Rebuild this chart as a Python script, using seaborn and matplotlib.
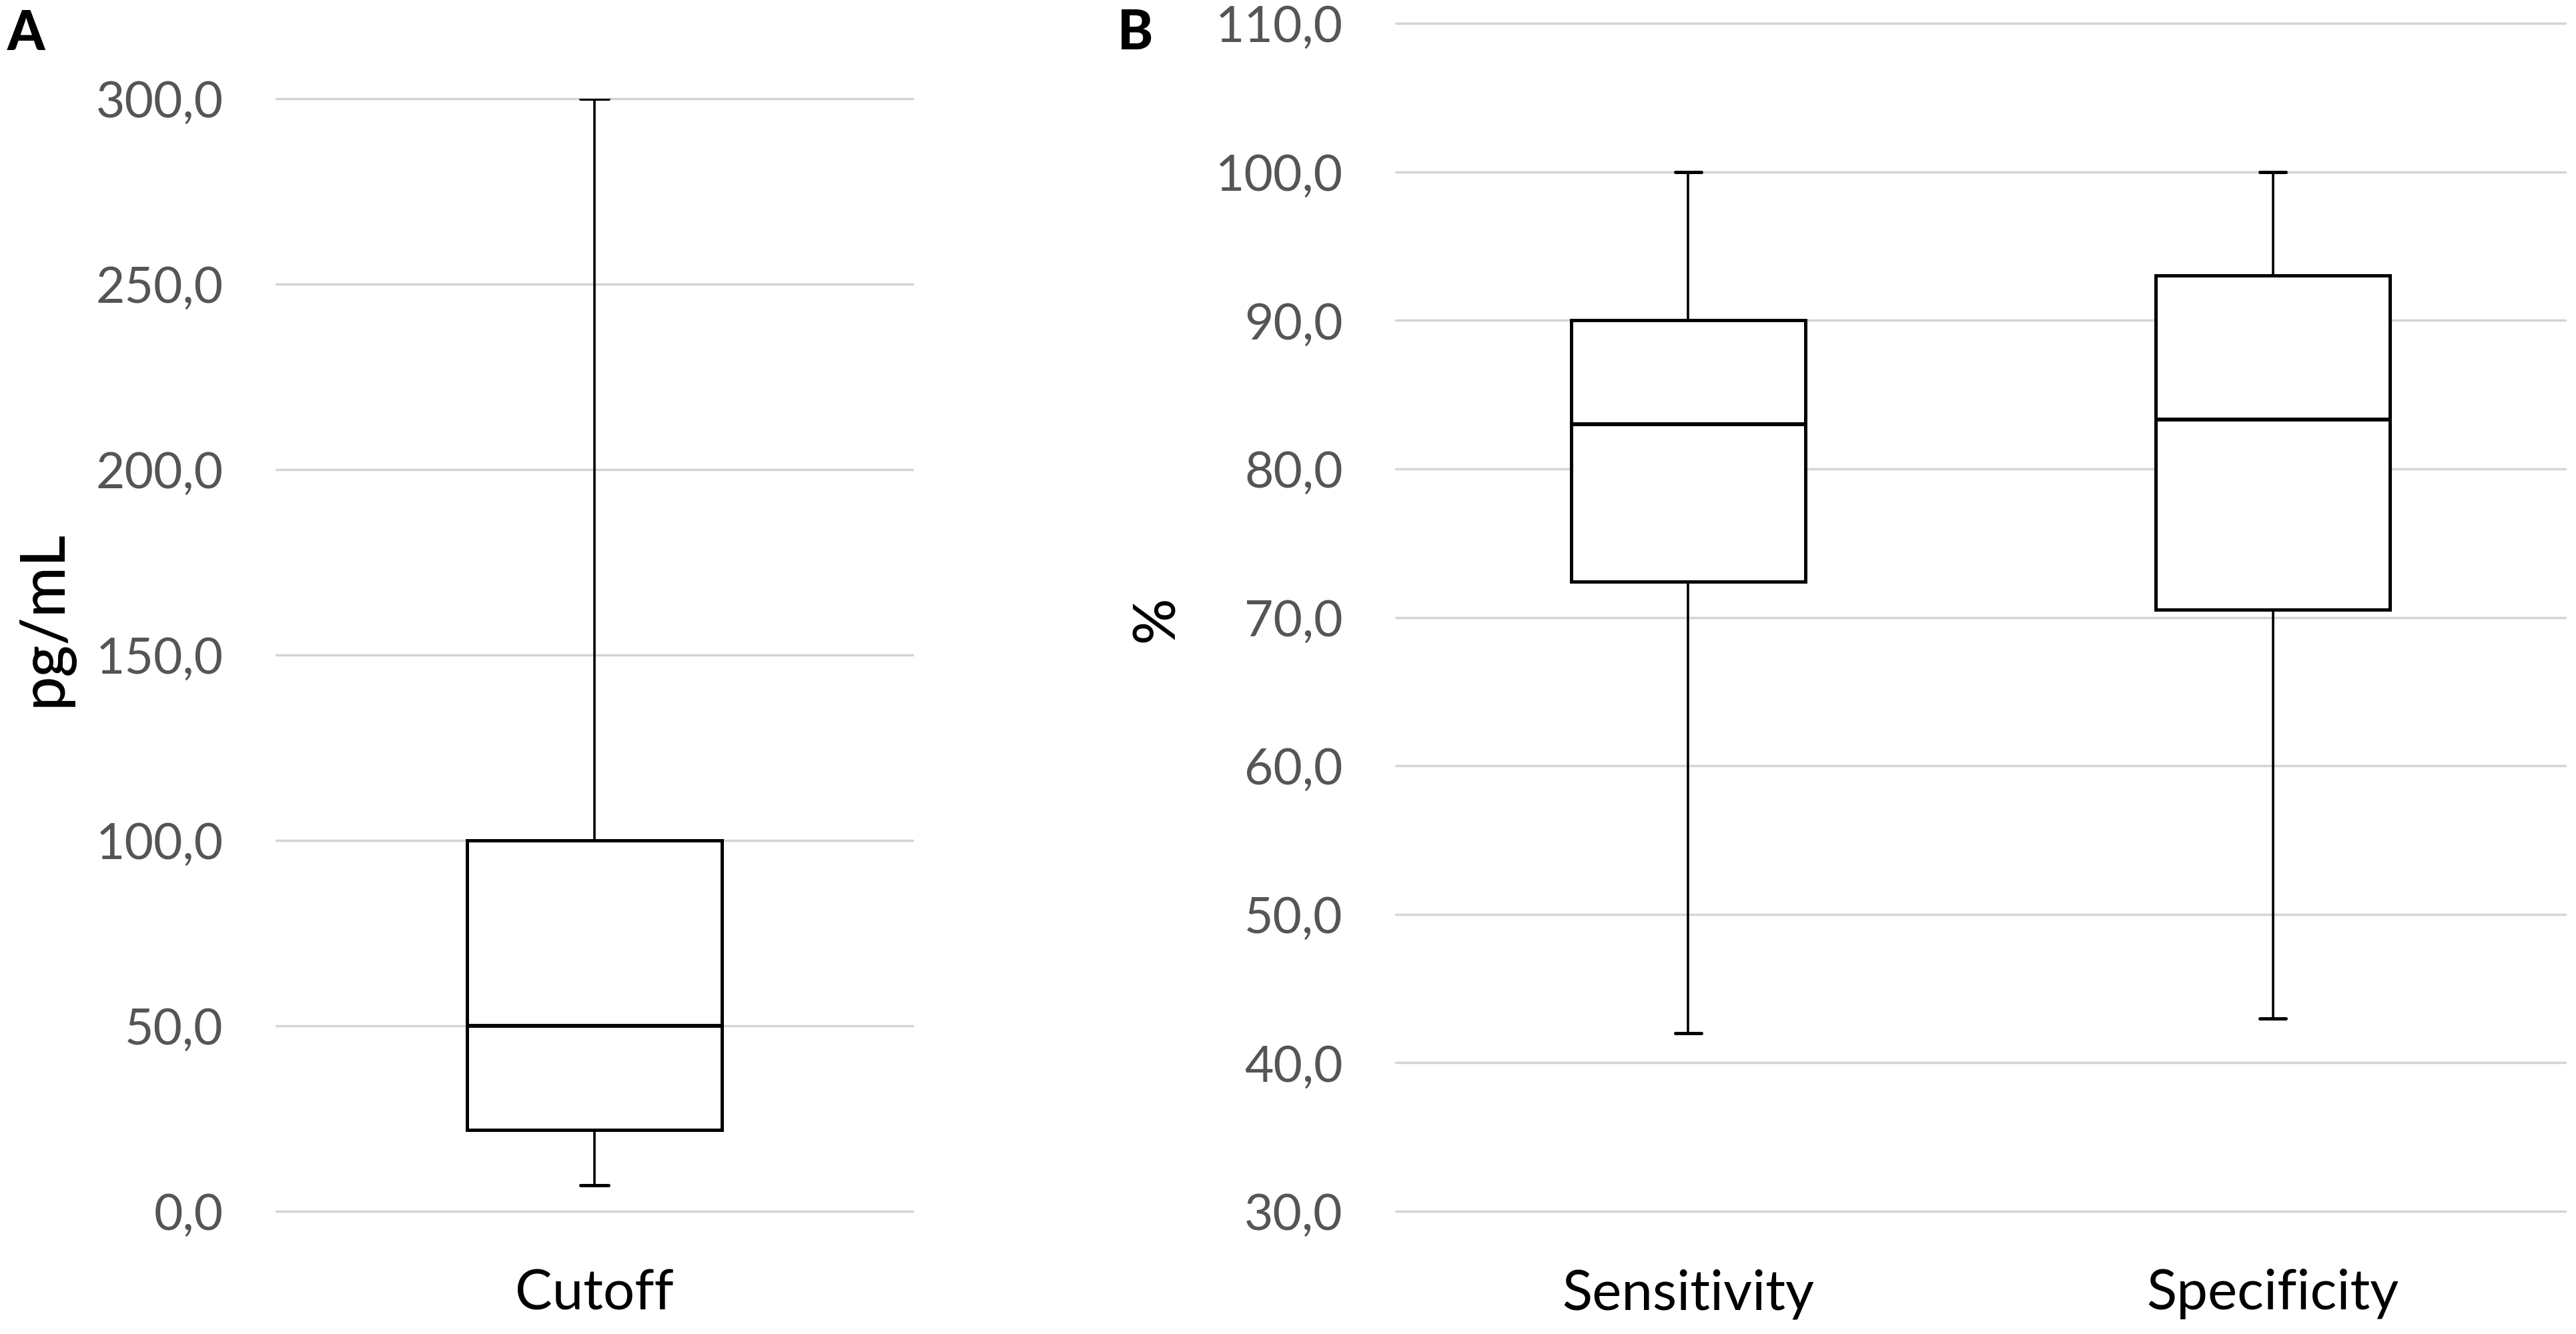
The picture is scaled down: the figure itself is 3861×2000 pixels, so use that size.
import numpy as np
import pandas as pd
import seaborn as sns
import matplotlib.pyplot as plt
from matplotlib.ticker import FuncFormatter

# five-number summaries: min, Q1, median, Q3, max
cutoff_vals = [7.0, 22.0, 50.0, 100.0, 300.0]
sensitivity_vals = [42.0, 72.4, 83.0, 90.0, 100.0]
specificity_vals = [43.0, 70.5, 83.3, 93.0, 100.0]

cutoff_ticks = [0, 50, 100, 150, 200, 250, 300]
pct_ticks = [30, 40, 50, 60, 70, 80, 90, 100, 110]

sns.set_theme(style="whitegrid")
plt.rcParams['font.family'] = ['Lato', 'DejaVu Sans']

df_a = pd.DataFrame({'group': ['Cutoff'] * len(cutoff_vals), 'value': cutoff_vals})
df_b = pd.DataFrame({
    'group': ['Sensitivity'] * len(sensitivity_vals) + ['Specificity'] * len(specificity_vals),
    'value': sensitivity_vals + specificity_vals,
})

W, H = 3862, 2000
fig = plt.figure(figsize=(W / 100, H / 100), dpi=100)
ax_a = fig.add_axes([414 / W, 184 / H, 954 / W, 1668 / H])
ax_b = fig.add_axes([2092 / W, 184 / H, 1753 / W, 1781 / H])

box_kw = dict(width=0.4, whis=np.inf, color='white', linecolor='black',
              linewidth=3.6, saturation=1, capwidths=0.045,
              whiskerprops=dict(linewidth=2.6),
              capprops=dict(linewidth=3.6),
              medianprops=dict(linewidth=4.2))

sns.boxplot(data=df_a, x='group', y='value', ax=ax_a, **box_kw)
sns.boxplot(data=df_b, x='group', y='value', ax=ax_b, **box_kw)

comma_fmt = FuncFormatter(lambda v, pos: f'{v:.1f}'.replace('.', ','))

for ax, ticks, lim in [(ax_a, cutoff_ticks, (0, 300)), (ax_b, pct_ticks, (30, 110))]:
    ax.set_ylim(*lim)
    ax.set_yticks(ticks)
    ax.yaxis.set_major_formatter(comma_fmt)
    ax.set_xlabel('')
    ax.set_ylabel('')
    for s in ax.spines.values():
        s.set_visible(False)
    ax.grid(False, axis='x')
    ax.grid(True, axis='y', color='#d4d4d4', linewidth=2.5)
    for gl in ax.get_ygridlines():
        gl.set_clip_on(False)
    ax.tick_params(axis='y', length=0, pad=57, labelsize=54, labelcolor='#555555')
    ax.tick_params(axis='x', length=0, pad=62, labelsize=60, labelcolor='black')
    ax.set_facecolor('white')

# axis titles and panel letters
fig.text(67 / W, 1 - 927 / H, 'pg/mL', rotation=90, ha='center', va='center',
         fontsize=66, fontweight='medium', color='black')
fig.text(1734 / W, 1 - 928 / H, '%', rotation=90, ha='center', va='center',
         fontsize=62, fontweight='medium', color='black')
fig.text(11 / W, 1 - 14 / H, 'A', ha='left', va='top', fontsize=58,
         fontweight='black', color='black')
fig.text(1675 / W, 1 - 13 / H, 'B', ha='left', va='top', fontsize=58,
         fontweight='black', color='black')

fig.savefig('out.png', dpi=100, facecolor='white')
